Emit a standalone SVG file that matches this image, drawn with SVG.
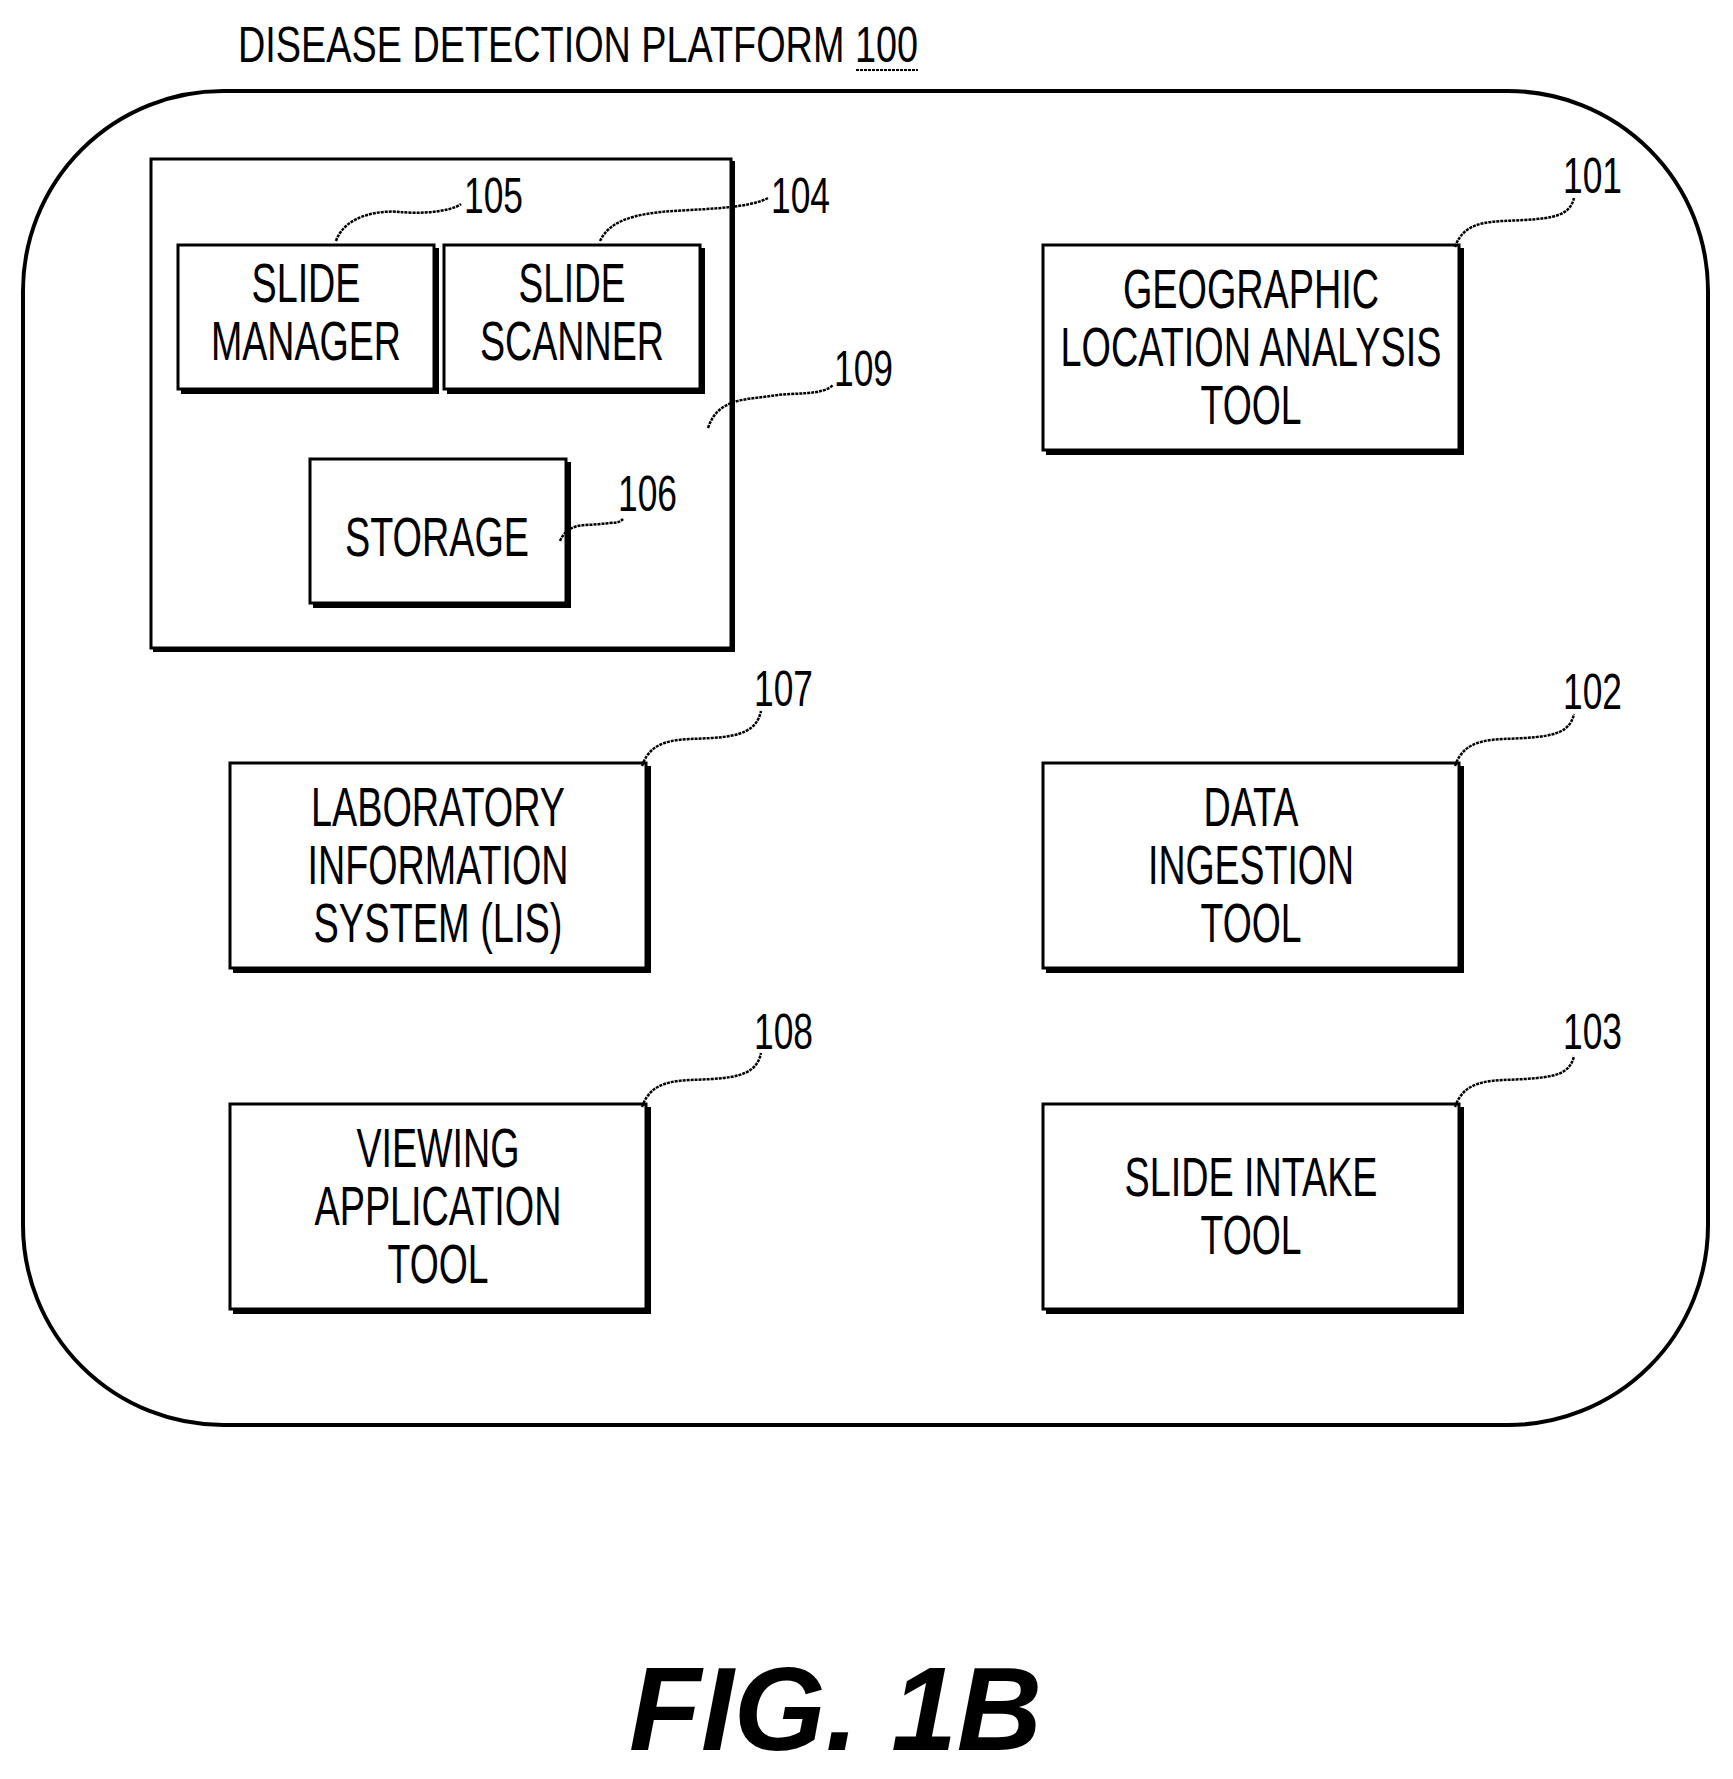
<svg xmlns="http://www.w3.org/2000/svg" width="1733" height="1779" viewBox="0 0 1733 1779">
<style>
.b{fill:#fff;stroke:#000;stroke-width:3}
.s{fill:none;stroke:#000;stroke-width:4}
.t{font-family:"Liberation Sans",Arial,sans-serif;font-size:56px;text-anchor:middle;fill:#000}
.n{font-family:"Liberation Sans",Arial,sans-serif;font-size:50px;fill:#000}
.l{fill:none;stroke:#000;stroke-width:2.5;stroke-dasharray:3 1}
</style>
<rect width="1733" height="1779" fill="#fff"/>
<rect x="23" y="91" width="1685" height="1334" rx="200" fill="none" stroke="#000" stroke-width="4"/>
<text class="n" x="238" y="62" textLength="680" lengthAdjust="spacingAndGlyphs">DISEASE DETECTION PLATFORM 100</text>
<line x1="856" y1="70" x2="918" y2="70" stroke="#000" stroke-width="2" stroke-dasharray="3 1"/>
<g id="n109"><rect class="b" x="151" y="159" width="580" height="489"/><path class="s" d="M733 161V650H153"/></g>
<g id="n105"><rect class="b" x="178" y="245" width="256" height="144"/><path class="s" d="M437 248V392H181"/>
<text class="t" x="306" y="302" textLength="109" lengthAdjust="spacingAndGlyphs">SLIDE</text><text class="t" x="306" y="360" textLength="190" lengthAdjust="spacingAndGlyphs">MANAGER</text></g>
<g id="n104"><rect class="b" x="444" y="245" width="256" height="144"/><path class="s" d="M703 248V392H447"/>
<text class="t" x="572" y="302" textLength="107" lengthAdjust="spacingAndGlyphs">SLIDE</text><text class="t" x="572" y="360" textLength="184" lengthAdjust="spacingAndGlyphs">SCANNER</text></g>
<g id="n106"><rect class="b" x="310" y="459" width="256" height="144"/><path class="s" d="M569 462V606H313"/>
<text class="t" x="437" y="556" textLength="184" lengthAdjust="spacingAndGlyphs">STORAGE</text></g>
<g id="n101"><rect class="b" x="1043" y="245" width="416" height="205"/><path class="s" d="M1462 248V453H1046"/>
<text class="t" x="1251" y="308" textLength="256" lengthAdjust="spacingAndGlyphs">GEOGRAPHIC</text><text class="t" x="1251" y="366" textLength="381" lengthAdjust="spacingAndGlyphs">LOCATION ANALYSIS</text><text class="t" x="1251" y="424" textLength="101" lengthAdjust="spacingAndGlyphs">TOOL</text></g>
<g id="n107"><rect class="b" x="230" y="763" width="416" height="205"/><path class="s" d="M649 766V971H233"/>
<text class="t" x="438" y="826" textLength="254" lengthAdjust="spacingAndGlyphs">LABORATORY</text><text class="t" x="438" y="884" textLength="261" lengthAdjust="spacingAndGlyphs">INFORMATION</text><text class="t" x="438" y="942" textLength="249" lengthAdjust="spacingAndGlyphs">SYSTEM (LIS)</text></g>
<g id="n102"><rect class="b" x="1043" y="763" width="416" height="205"/><path class="s" d="M1462 766V971H1046"/>
<text class="t" x="1251" y="826" textLength="95" lengthAdjust="spacingAndGlyphs">DATA</text><text class="t" x="1251" y="884" textLength="206" lengthAdjust="spacingAndGlyphs">INGESTION</text><text class="t" x="1251" y="942" textLength="101" lengthAdjust="spacingAndGlyphs">TOOL</text></g>
<g id="n108"><rect class="b" x="230" y="1104" width="416" height="205"/><path class="s" d="M649 1107V1312H233"/>
<text class="t" x="438" y="1167" textLength="163" lengthAdjust="spacingAndGlyphs">VIEWING</text><text class="t" x="438" y="1225" textLength="247" lengthAdjust="spacingAndGlyphs">APPLICATION</text><text class="t" x="438" y="1283" textLength="101" lengthAdjust="spacingAndGlyphs">TOOL</text></g>
<g id="n103"><rect class="b" x="1043" y="1104" width="416" height="205"/><path class="s" d="M1462 1107V1312H1046"/>
<text class="t" x="1251" y="1196" textLength="253" lengthAdjust="spacingAndGlyphs">SLIDE INTAKE</text><text class="t" x="1251" y="1254" textLength="101" lengthAdjust="spacingAndGlyphs">TOOL</text></g>
<g id="connectors">
<path class="l" d="M336 241C345 215 380 210 400 212S450 212 461 204"/>
<path class="l" d="M600 241C612 215 650 212 690 210S755 205 768 198"/>
<path class="l" d="M708 428C718 398 745 400 770 396S822 396 833 385"/>
<path class="l" d="M560 541C568 522 585 526 600 524S618 524 623 519"/>
<path class="l" d="M1455 247C1465 218 1495 222 1525 220S1570 215 1574 198"/>
<path class="l" d="M642 766C652 736 682 740 712 738S757 730 761 711"/>
<path class="l" d="M1455 766C1465 736 1495 740 1525 738S1570 732 1574 714"/>
<path class="l" d="M642 1107C652 1077 682 1081 712 1079S757 1072 761 1053"/>
<path class="l" d="M1455 1107C1465 1077 1495 1081 1525 1079S1570 1074 1574 1056"/>
</g>
<text class="n" x="464" y="213" textLength="59" lengthAdjust="spacingAndGlyphs">105</text>
<text class="n" x="771" y="213" textLength="59" lengthAdjust="spacingAndGlyphs">104</text>
<text class="n" x="834" y="386" textLength="59" lengthAdjust="spacingAndGlyphs">109</text>
<text class="n" x="618" y="511" textLength="59" lengthAdjust="spacingAndGlyphs">106</text>
<text class="n" x="1563" y="193" textLength="59" lengthAdjust="spacingAndGlyphs">101</text>
<text class="n" x="754" y="706" textLength="59" lengthAdjust="spacingAndGlyphs">107</text>
<text class="n" x="1563" y="709" textLength="59" lengthAdjust="spacingAndGlyphs">102</text>
<text class="n" x="754" y="1049" textLength="59" lengthAdjust="spacingAndGlyphs">108</text>
<text class="n" x="1563" y="1049" textLength="59" lengthAdjust="spacingAndGlyphs">103</text>
<text x="629" y="1750" font-family="Liberation Sans,Arial,sans-serif" font-size="118" font-weight="bold" font-style="italic" textLength="413" lengthAdjust="spacingAndGlyphs">FIG. 1B</text>
</svg>
